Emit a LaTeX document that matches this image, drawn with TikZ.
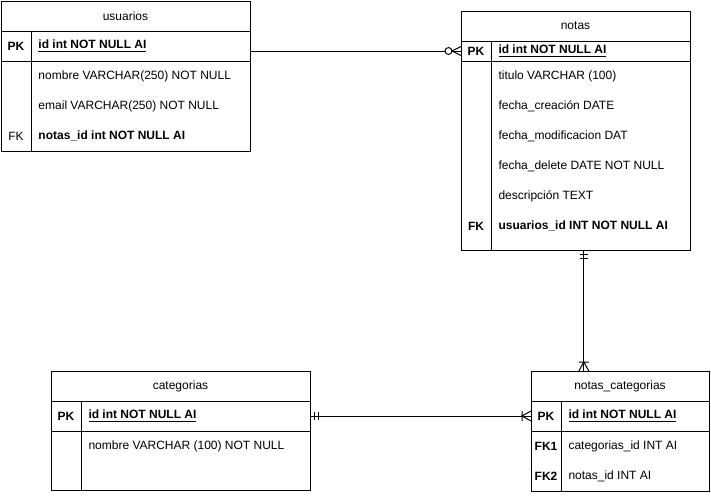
\documentclass[tikz,border=0pt]{standalone}
\usepackage{fontspec}
\setmainfont{Liberation Sans}
\usetikzlibrary{positioning,calc}

\tikzset{
	cell/.style={rectangle,draw,outer sep=0pt,inner sep=0pt,anchor=north west,font=\fontsize{9}{11}\selectfont},
	txt/.style={anchor=west,inner sep=0pt,font=\fontsize{9}{11}\selectfont},
	key/.style={inner sep=0pt,font=\fontsize{9}{11}\selectfont},
	mandone/.pic={\draw (4,-4) -- (4,4) (8,-4) -- (8,4);},
	onemany/.pic={\draw (0,-5) -- (9,0) -- (0,5) (9,-5) -- (9,5);},
	zeromany/.pic={\draw (0,-4.5) -- (9,0) -- (0,4.5); \draw[fill=white] (12.5,0) circle (2.6pt);}
}

\begin{document}
\begin{tikzpicture}[x=0.75pt,y=-0.75pt,line width=0.75pt]
	\fill[white] (0,0) rectangle (711,501);

	% usuarios
	\node[cell,minimum width=186.75pt,minimum height=22.5pt] (uT) at (1,1) {usuarios};
	\node[cell,minimum width=22.5pt,minimum height=22.5pt] (uPK) at (uT.south west) {\bfseries PK};
	\node[cell,minimum width=164.25pt,minimum height=22.5pt,right=0pt of uPK] (uPKf) {};
	\node[txt] (uId) at ([xshift=5.25pt]uPKf.west) {\textbf{\underline{id int NOT NULL AI}}};
	\node[cell,minimum width=22.5pt,minimum height=67.5pt] (uBK) at (uPK.south west) {};
	\node[cell,minimum width=164.25pt,minimum height=67.5pt,right=0pt of uBK] (uBF) {};
	\foreach \k/\t [count=\i from 0] in {/nombre VARCHAR(250) NOT NULL,/email VARCHAR(250) NOT NULL,FK/\textbf{notas\_id int NOT NULL AI}} {
		\node[key] (uk\i) at ([yshift={-11.25pt-22.5pt*\i}]uBK.north) {\k};
		\node[txt] (u\i) at ([xshift=5.25pt,yshift={-11.25pt-22.5pt*\i}]uBF.north west) {\t};
	}

	% notas
	\node[cell,minimum width=171.75pt,minimum height=22.5pt] (nT) at (461,11) {notas};
	\node[cell,minimum width=22.5pt,minimum height=15pt] (nPK) at (nT.south west) {\bfseries PK};
	\node[cell,minimum width=149.25pt,minimum height=15pt,right=0pt of nPK] (nPKf) {};
	\node[txt] (nId) at ([xshift=5.25pt]nPKf.west) {\textbf{\underline{id int NOT NULL AI}}};
	\node[cell,minimum width=22.5pt,minimum height=141.75pt] (nBK) at (nPK.south west) {};
	\node[cell,minimum width=149.25pt,minimum height=141.75pt,right=0pt of nBK] (nBF) {};
	\foreach \k/\t [count=\i from 0] in {/titulo VARCHAR (100),/fecha\_creación DATE,/fecha\_modificacion DAT,/fecha\_delete DATE NOT NULL,/descripción TEXT,\textbf{FK}/\textbf{usuarios\_id INT NOT NULL AI}} {
		\node[key] (nk\i) at ([yshift={-11.25pt-22.5pt*\i}]nBK.north) {\k};
		\node[txt] (n\i) at ([xshift=5.25pt,yshift={-11.25pt-22.5pt*\i}]nBF.north west) {\t};
	}

	% categorias
	\node[cell,minimum width=194.25pt,minimum height=22.5pt] (cT) at (51,371) {categorias};
	\node[cell,minimum width=22.5pt,minimum height=22.5pt] (cPK) at (cT.south west) {\bfseries PK};
	\node[cell,minimum width=171.75pt,minimum height=22.5pt,right=0pt of cPK] (cPKf) {};
	\node[txt] (cId) at ([xshift=5.25pt]cPKf.west) {\textbf{\underline{id int NOT NULL AI}}};
	\node[cell,minimum width=22.5pt,minimum height=44.25pt] (cBK) at (cPK.south west) {};
	\node[cell,minimum width=171.75pt,minimum height=44.25pt,right=0pt of cBK] (cBF) {};
	\node[txt] (c0) at ([xshift=5.25pt,yshift=-11.25pt]cBF.north west) {nombre VARCHAR (100) NOT NULL};

	% notas_categorias
	\node[cell,minimum width=133.5pt,minimum height=22.5pt] (ncT) at (531,371) {notas\_categorias};
	\node[cell,minimum width=22.5pt,minimum height=22.5pt] (ncPK) at (ncT.south west) {\bfseries PK};
	\node[cell,minimum width=111pt,minimum height=22.5pt,right=0pt of ncPK] (ncPKf) {};
	\node[txt] (ncId) at ([xshift=5.25pt]ncPKf.west) {\textbf{\underline{id int NOT NULL AI}}};
	\node[cell,minimum width=22.5pt,minimum height=45pt] (ncBK) at (ncPK.south west) {};
	\node[cell,minimum width=111pt,minimum height=45pt,right=0pt of ncBK] (ncBF) {};
	\foreach \k/\t [count=\i from 0] in {\textbf{FK1}/categorias\_id INT AI,\textbf{FK2}/notas\_id INT AI} {
		\node[key] (nck\i) at ([yshift={-11.25pt-22.5pt*\i}]ncBK.north) {\k};
		\node[txt] (nc\i) at ([xshift=5.25pt,yshift={-11.25pt-22.5pt*\i}]ncBF.north west) {\t};
	}

	% relations
	\draw (uPKf.east |- nPK.west) -- (nPK.west);
	\pic[rotate=180] at (nPK.west) {zeromany};
	\draw (cPKf.east) -- (ncPK.west);
	\pic at (cPKf.east) {mandone};
	\pic[rotate=180] at (ncPK.west) {onemany};
	\coordinate (link) at ([xshift=-5pt]nBF.south);
	\draw (link) -- (link |- ncT.north);
	\pic[rotate=-90] at (link) {mandone};
	\pic[rotate=90] at (link |- ncT.north) {onemany};
\end{tikzpicture}
\end{document}
